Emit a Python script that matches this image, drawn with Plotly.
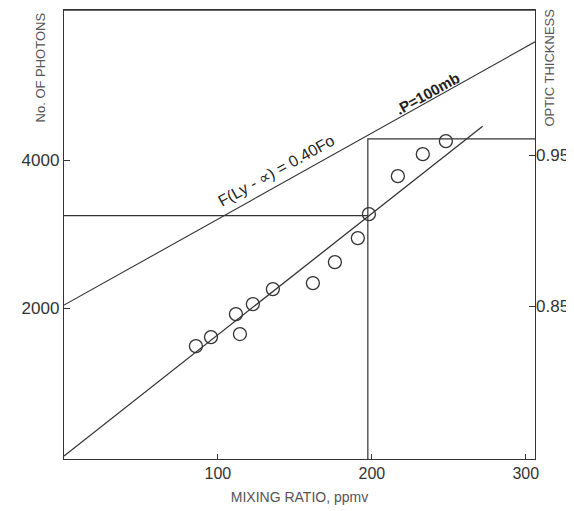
import plotly.graph_objects as go

# Data
mix_ratio = [85.7, 95.5, 111.7, 114.3, 122.7, 135.7, 161.7, 176.0, 190.9, 198.1, 216.9, 233.1, 248.1]
photons   = [1486, 1608, 1919, 1649, 2054, 2257, 2338, 2622, 2946, 3270, 3784, 4081, 4257]

fit_x = [0, 272]
fit_y = [0, 4459]

flux_x = [0, 306]
flux_y = [2040, 5600]

sel_mix = 197.4
sel_photons = 3250
sel_optic = 0.961

x_ticks = [100, 200, 300]
y_ticks = [2000, 4000]
y2_ticks = [0.85, 0.95]
y2_labels = ["0.85", "0.95"]

LINE = "#333333"
TXT = "#333333"
FONT = "Liberation Sans, Arial, sans-serif"

fig = go.Figure()

fig.add_trace(go.Scatter(x=flux_x, y=flux_y, mode="lines",
                         line=dict(color=LINE, width=1.1), hoverinfo="skip"))
fig.add_trace(go.Scatter(x=fit_x, y=fit_y, mode="lines",
                         line=dict(color=LINE, width=1.3), hoverinfo="skip"))
fig.add_trace(go.Scatter(x=[0, sel_mix], y=[sel_photons, sel_photons], mode="lines",
                         line=dict(color=LINE, width=1.2), hoverinfo="skip"))
fig.add_trace(go.Scatter(x=[sel_mix, sel_mix, 306], y=[0.749, sel_optic, sel_optic],
                         mode="lines", yaxis="y2",
                         line=dict(color=LINE, width=1.2), hoverinfo="skip"))
fig.add_trace(go.Scatter(x=mix_ratio, y=photons, mode="markers",
                         marker=dict(symbol="circle-open", size=13, color=LINE,
                                     line=dict(width=1.3, color=LINE))))

fig.add_annotation(x=138, y=3866, text="F(Ly - ∝) = 0.40Fo", showarrow=False,
                   textangle=-29, xanchor="center", yanchor="middle",
                   font=dict(family=FONT, size=16, color="#222"))
fig.add_annotation(x=236, y=4907, text="<b>.P=100mb</b>", showarrow=False,
                   textangle=-29, xanchor="center", yanchor="middle",
                   font=dict(family=FONT, size=15, color="#222"))

fig.add_annotation(xref="paper", yref="paper", x=-0.051, y=0.872,
                   xanchor="center", yanchor="middle",
                   text="No. OF PHOTONS", showarrow=False, textangle=-90,
                   font=dict(family=FONT, size=13, color="#555"))
fig.add_annotation(xref="paper", yref="paper", x=1.03, y=0.872,
                   xanchor="center", yanchor="middle",
                   text="OPTIC THICKNESS", showarrow=False, textangle=-90,
                   font=dict(family=FONT, size=13, color="#555"))

# top frame edge
fig.add_shape(type="line", xref="paper", yref="paper", x0=0, x1=1, y0=1, y1=1,
              line=dict(color=LINE, width=1.3))

fig.update_layout(
    width=566, height=503,
    margin=dict(l=56, r=39, t=2, b=52, autoexpand=False),
    paper_bgcolor="white", plot_bgcolor="white",
    showlegend=False,
    font=dict(family=FONT, color=TXT),
    xaxis=dict(range=[0, 306], tickvals=x_ticks, ticks="inside", ticklen=5,
               tickcolor=LINE, showline=True, linecolor=LINE, linewidth=1.3,
               mirror=True, showgrid=False, zeroline=False, automargin=False,
               tickfont=dict(size=16, color=TXT),
               title=dict(text="MIXING RATIO, ppmv", standoff=10,
                          font=dict(size=14, color="#555"))),
    yaxis=dict(range=[-40, 6030], tickvals=y_ticks, ticks="inside", ticklen=6,
               tickcolor=LINE, showline=True, linecolor=LINE, linewidth=1.3,
               mirror=True, showgrid=False, zeroline=False, automargin=False,
               tickfont=dict(size=17, color=TXT)),
    yaxis2=dict(range=[0.749, 1.0463], overlaying="y", side="right",
                tickvals=y2_ticks, ticktext=y2_labels, ticks="inside", ticklen=6,
                tickcolor=LINE, showline=False, showgrid=False, zeroline=False,
                automargin=False, tickfont=dict(size=17, color=TXT)),
)

fig.write_html("out.html")
